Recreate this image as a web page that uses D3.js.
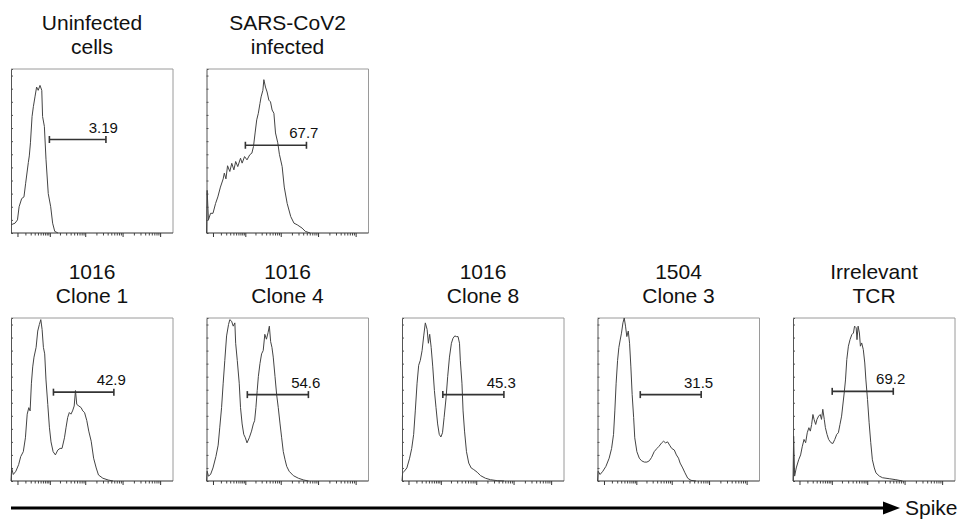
<!DOCTYPE html>
<html>
<head>
<meta charset="utf-8">
<script src="https://cdn.jsdelivr.net/npm/d3@7"></script>
<style>
  body { margin: 0; background: #fff; }
  text { font-family: "Liberation Sans", Arial, sans-serif; }
</style>
</head>
<body>
<div id="chart"></div>
<script>
// panel titles (two lines each)
var titles = [
  ["Uninfected", "cells"],
  ["SARS-CoV2", "infected"],
  ["1016", "Clone 1"],
  ["1016", "Clone 4"],
  ["1016", "Clone 8"],
  ["1504", "Clone 3"],
  ["Irrelevant", "TCR"]
]
// gate percentages
var gateLabels = ["3.19", "67.7", "42.9", "54.6", "45.3", "31.5", "69.2"]
// gate start / end (display channel, 0-100) and height (% of max)
var gateStart = [23.7, 24, 26.2, 25.2, 25.2, 26.4, 24.2]
var gateEnd = [58.6, 61.7, 63.5, 62.9, 62.9, 64, 61.9]
var gateY = [57, 53.5, 54.5, 53, 53, 53, 55]

// histograms: [channel, % of max]
var uninfected = [[0,5],[2.5,6],[4,8],[5,16],[6.6,21],[8,22],[9,30],[10.7,43],[11.3,47],[12,55],[13,71],[13.8,77],[14.8,83],[15.8,89],[16.8,87],[17.9,90],[19,87],[19.5,71],[20.6,65],[21.6,45],[23,24],[24.5,16],[25.7,6],[27,1],[29,0]]
var sarsInfected = [[0,0],[0.4,26],[1.2,8],[2.5,12],[4,12],[5.6,18],[7,22],[8.6,28],[10.3,33],[11,36.5],[12,33],[13,41],[14.4,37.5],[15.6,42.5],[16.9,38.5],[18,43.6],[19.3,40.5],[21,45.6],[22,42.6],[23.5,46.6],[25,44.6],[26.7,47.7],[28,48.7],[29,52.7],[30,61],[31,69],[32,73],[33,79],[33.7,83],[34.8,87],[35.4,93.5],[36.4,89],[37.4,86],[38.5,81],[39.5,80],[40.5,75],[41.6,73],[42.6,61],[44,55],[45,48],[46.7,40.5],[48,28],[49.8,18],[52,10],[54,6],[56,5],[59,3],[61,1],[64,0]]
var clone1016_1 = [[0,0],[0.4,8],[1.4,4],[3,6],[4.7,10],[6,15],[7.6,18],[8.9,26.5],[10,41],[11,45],[11.8,43],[12.6,60],[13.4,70],[14.2,76],[15.5,82],[16.5,92],[17.5,96],[18.4,99],[19.2,93],[20,82],[20.8,78],[21.6,62],[22.7,47],[23.7,33],[24.7,24],[26,18],[27.4,16],[28.9,19],[30.3,20],[31.5,20],[33,26.5],[34,33],[35,39],[36,42],[37,41],[38,43],[39,46],[39.8,55.5],[40.6,47],[41.9,46],[43.3,45],[44.3,43],[45.4,42],[46.8,37],[48,30.6],[49.5,24.4],[51,14],[52.6,8],[54,3.7],[56.7,1.7],[60,0.6],[63,0]]
var clone1016_4 = [[0,0],[0.4,6],[1.2,3],[2.5,4],[4,8],[5.8,15],[7.2,22],[8.2,33],[9.3,45],[10.3,60],[11.3,74],[12.4,89],[13.6,96],[14.4,99],[15.5,98],[16.5,95],[17.5,97],[18,84.5],[19,74],[20.2,60],[21,45],[22,35],[23,28.6],[24,26.5],[25,23.4],[26.4,26.5],[27.8,30.6],[28.9,35],[29.7,37],[30.5,45],[31.3,55.5],[32,64],[33,72],[34,78],[35,80],[36,90],[37,87],[38,91],[38.8,95],[39.6,85.5],[40.4,82],[41.2,76],[42.3,64],[43.3,53],[44.3,45],[45.4,35],[46.4,26.5],[47.4,18],[48.5,13],[49.5,9],[51,6],[53.6,3.3],[56.7,1.7],[60,0.6],[63,0]]
var clone1016_8 = [[0,0],[0.4,5],[1.4,6],[3,8],[4.7,14],[6,20],[7.2,28.6],[8.2,43],[9.3,60],[10.3,71],[11.3,74],[12.4,80],[13.4,89],[14.4,97],[15.5,93],[16.3,84.5],[17.1,90],[18,82],[19,70],[20,55.5],[21,45],[22,35],[23,28.6],[24,27],[25,29.6],[26,39],[27.2,51],[28.2,64],[29.3,76],[30.5,84.5],[31.5,87.6],[32.6,89],[33.6,88.6],[34.6,88.6],[35.5,84.5],[36,74],[37,60],[37.7,43],[38.6,30.6],[39.8,18],[41.2,11],[42.7,8],[44.3,7],[46.4,5.4],[48.5,3.3],[51.5,1.7],[54.6,0.8],[58.8,0.2],[63,0]]
var clone1504_3 = [[0,0],[0.4,6],[1.6,4],[3.3,6],[5.2,9],[7.2,14],[8.7,20],[9.9,28.6],[10.7,43],[11.5,60],[12.4,74],[13.2,82],[14,86.5],[14.8,90.7],[15.7,97],[16.5,100],[17.3,95],[18.1,88.6],[19,92],[19.8,84.5],[20.6,70],[21.4,53],[22.3,39],[23,26.5],[24.3,18],[25.8,14],[27.2,12.4],[28.9,11.6],[30.5,11.6],[32,12.4],[33.4,14.5],[35,18],[36.7,20],[38,21.3],[39.6,23.4],[40.8,24.4],[42,23.4],[43.3,24],[44.5,22],[45.8,20],[47.4,19],[48.7,16],[50,14],[51,11],[52.6,8],[54,5],[55.7,1.7],[57.7,0.4],[60.8,0]]
var irrelevantTcr = [[0,0],[0.4,27.5],[1,3],[2,8],[3.5,13],[4.7,16],[5.7,21],[6.8,25.5],[7.8,23.5],[8.8,29.6],[9.8,32.7],[10.7,30.6],[11.5,34.7],[12.3,40.8],[13,37.8],[14,34.7],[14.8,37.8],[15.8,39.8],[16.8,40.8],[17.6,37.8],[18.4,44],[19.3,37.8],[20,32.7],[21,28.6],[22,25.5],[23.4,23.5],[24.6,23],[25.8,25.5],[27,28.6],[28,29.6],[29,34.7],[30,39.8],[30.7,46],[31.6,54],[32.4,62],[33.2,74.5],[34.2,82.7],[35.2,86.7],[36.3,89.8],[37.3,90.8],[38,95],[39,94],[39.5,86.7],[40.2,95],[41,90.8],[41.6,82.7],[42.4,84.7],[43.4,80.6],[44.3,72.4],[45,62],[46,50],[47,35.7],[48,23.5],[49,13],[50.2,8],[51.2,5],[53.3,3],[55.3,2],[59.4,1.4],[63.5,0.8],[67.6,0]]

var histograms = [uninfected, sarsInfected, clone1016_1, clone1016_4, clone1016_8, clone1504_3, irrelevantTcr]

// axis ticks (fluorescence, biexponential-ish)
var majorTicks = [0, 1e2, 1e3, 1e4, 1e5]
var minorMult = [2, 3, 4, 5, 6, 7, 8, 9]
var minorDecades = [10, 100, 1000, 10000, 100000]
var yTicks = [8, 16, 24, 32, 40, 48, 56, 64, 72, 80, 88, 96]

// layout
var width = 965
var height = 524
var panelW = 162
var panelStep = 195.5
var panelLeft = 11
var rows = [
  { top: 69, h: 164, panels: [0, 1] },
  { top: 318, h: 163, panels: [2, 3, 4, 5, 6] }
]

var svg = d3.select('#chart')
  .append('svg')
  .attr('width', width)
  .attr('height', height)

var minorTicks = []
minorDecades.forEach(function (d) {
  minorMult.forEach(function (m) { minorTicks.push(d * m) })
})
minorTicks.push(10)

rows.forEach(function (row) {
  row.panels.forEach(function (p, col) {
    var x0 = panelLeft + col * panelStep
    var g = svg.append('g').attr('transform', 'translate(' + x0 + ',' + row.top + ')')

    var xScale = d3.scaleLinear().domain([0, 100]).range([0, panelW])
    var yScale = d3.scaleLinear().domain([0, 100]).range([row.h, 0])
    // tick scale shares pixels with the channel scale
    var tickScale = d3.scaleSymlog().constant(16).domain([-7.8, 2.2e5]).range([0, panelW])

    // frame: top and right in grey
    g.append('path')
      .attr('d', 'M0,0H' + panelW + 'V' + row.h)
      .attr('fill', 'none')
      .attr('stroke', '#9a9a9a')
      .attr('stroke-width', 1)

    // left axis, ticks pointing in
    var yAxis = d3.axisRight(yScale).tickValues(yTicks).tickSize(2).tickFormat('')
    g.append('g').call(yAxis)
      .call(function (s) {
        s.select('.domain').attr('stroke', '#555')
        s.selectAll('.tick line').attr('stroke', '#555')
      })

    // bottom axis, ticks pointing out
    var xAxisMajor = d3.axisBottom(tickScale).tickValues(majorTicks).tickSize(4).tickFormat('')
    var xAxisMinor = d3.axisBottom(tickScale)
      .tickValues(minorTicks.filter(function (t) { return tickScale(t) < panelW - 2 }))
      .tickSize(2.5).tickFormat('')
    g.append('g').attr('transform', 'translate(0,' + row.h + ')').call(xAxisMinor)
      .call(function (s) {
        s.select('.domain').remove()
        s.selectAll('.tick line').attr('stroke', '#444')
      })
    g.append('g').attr('transform', 'translate(0,' + row.h + ')').call(xAxisMajor)
      .call(function (s) {
        s.select('.domain').attr('stroke', '#333').attr('d', 'M0,0H' + panelW)
        s.selectAll('.tick line').attr('stroke', '#333')
      })

    // histogram
    var line = d3.line()
      .x(function (d) { return xScale(d[0]) })
      .y(function (d) { return yScale(d[1]) })
    g.append('path')
      .datum(histograms[p])
      .attr('d', line)
      .attr('fill', 'none')
      .attr('stroke', '#444')
      .attr('stroke-width', 1)

    // gate
    var gx1 = xScale(gateStart[p])
    var gx2 = xScale(gateEnd[p])
    var gy = yScale(gateY[p])
    var gate = g.append('g').attr('stroke', '#333').attr('stroke-width', 1.6)
    gate.append('line').attr('x1', gx1).attr('x2', gx2).attr('y1', gy).attr('y2', gy)
    gate.append('line').attr('x1', gx1).attr('x2', gx1).attr('y1', gy - 3.5).attr('y2', gy + 3.5)
    gate.append('line').attr('x1', gx2).attr('x2', gx2).attr('y1', gy - 3.5).attr('y2', gy + 3.5)
    g.append('text')
      .attr('x', gx2 + 12)
      .attr('y', gy - 7)
      .attr('text-anchor', 'end')
      .attr('font-size', 15)
      .attr('fill', '#111')
      .text(gateLabels[p])

    // title
    g.append('text')
      .attr('x', panelW / 2)
      .attr('y', -39)
      .attr('text-anchor', 'middle')
      .attr('font-size', 21)
      .attr('fill', '#111')
      .text(titles[p][0])
    g.append('text')
      .attr('x', panelW / 2)
      .attr('y', -15)
      .attr('text-anchor', 'middle')
      .attr('font-size', 21)
      .attr('fill', '#111')
      .text(titles[p][1])
  })
})

// Spike arrow along the bottom
svg.append('line')
  .attr('x1', 11).attr('x2', 885)
  .attr('y1', 508).attr('y2', 508)
  .attr('stroke', '#000')
  .attr('stroke-width', 3)
svg.append('path')
  .attr('d', 'M883,501.5L900,508L883,514.5Z')
  .attr('fill', '#000')
svg.append('text')
  .attr('x', 905)
  .attr('y', 515)
  .attr('font-size', 21)
  .attr('fill', '#111')
  .text('Spike')
</script>
</body>
</html>
